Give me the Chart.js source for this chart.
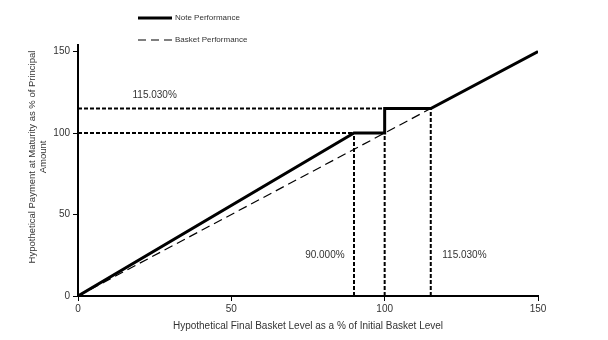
<!DOCTYPE html>
<html>
<head>
<meta charset="utf-8">
<script src="https://cdn.jsdelivr.net/npm/chart.js@4/dist/chart.umd.min.js"></script>
<style>
  html, body { margin: 0; padding: 0; background: #fff; }
  #wrap { width: 608px; height: 340px; position: relative; }
</style>
</head>
<body>
<div id="wrap"><canvas id="c" width="608" height="340"></canvas></div>
<script>
// ---- data ----
const noteX = [0, 90, 100, 100, 115.03, 150];
const noteY = [0, 100, 100, 115.03, 115.03, 150];
const basketX = [0, 150];
const basketY = [0, 150];
const guideH100X = [0, 90];
const guideH100Y = [100, 100];
const guideH115X = [0, 100];
const guideH115Y = [115.03, 115.03];
const guideV90X = [90, 90];
const guideV90Y = [0, 100];
const guideV100X = [100, 100];
const guideV100Y = [0, 100];
const guideV115X = [115.03, 115.03];
const guideV115Y = [0, 115.03];
const xTicks = [0, 50, 100, 150];
const yTicks = [0, 50, 100, 150];
const seriesNames = ["Note Performance", "Basket Performance"];
const annotations = [
  { text: "115.030%", x: 25, y: 123 },
  { text: "90.000%", x: 80.5, y: 25 },
  { text: "115.030%", x: 126, y: 25 }
];
const xTitle = "Hypothetical Final Basket Level as a % of Initial Basket Level";
const yTitleLines = ["Hypothetical Payment at Maturity as % of Principal", "Amount"];

const pts = (xs, ys) => xs.map((x, i) => ({ x: x, y: ys[i] }));
const FONT = "'Liberation Sans', Arial, sans-serif";
const TXT = "#333";

function guide(xs, ys) {
  return { label: "guide", data: pts(xs, ys), showLine: true, borderColor: "#000",
    borderWidth: 2, borderDash: [4, 2], pointRadius: 0, fill: false };
}

const overlay = {
  id: "overlay",
  afterDraw(chart) {
    const ctx = chart.ctx;
    const xs = chart.scales.x, ys = chart.scales.y;
    ctx.save();
    // annotations
    ctx.fillStyle = TXT;
    ctx.font = "10px " + FONT;
    ctx.textAlign = "center";
    ctx.textBaseline = "middle";
    annotations.forEach(a => {
      ctx.fillText(a.text, xs.getPixelForValue(a.x), ys.getPixelForValue(a.y));
    });
    // x title
    ctx.font = "10px " + FONT;
    ctx.fillText(xTitle, (chart.chartArea.left + chart.chartArea.right) / 2, 326);
    // y title
    ctx.save();
    ctx.translate(32, 157);
    ctx.rotate(-Math.PI / 2);
    ctx.font = "9.5px " + FONT;
    ctx.fillText(yTitleLines[0], 0, 0);
    ctx.fillText(yTitleLines[1], 0, 11);
    ctx.restore();
    // legend
    ctx.strokeStyle = "#000";
    ctx.lineWidth = 3;
    ctx.setLineDash([]);
    ctx.beginPath(); ctx.moveTo(138, 18); ctx.lineTo(172, 18); ctx.stroke();
    ctx.lineWidth = 1.2;
    ctx.setLineDash([8, 5]);
    ctx.beginPath(); ctx.moveTo(138, 40); ctx.lineTo(172, 40); ctx.stroke();
    ctx.setLineDash([]);
    ctx.font = "8px " + FONT;
    ctx.textAlign = "left";
    ctx.fillText(seriesNames[0], 175, 18);
    ctx.fillText(seriesNames[1], 175, 40);
    ctx.restore();
  }
};

new Chart(document.getElementById("c"), {
  type: "scatter",
  data: {
    datasets: [
      { label: seriesNames[0], data: pts(noteX, noteY), showLine: true, borderColor: "#000",
        borderWidth: 3, pointRadius: 0, fill: false, order: 0 },
      { label: seriesNames[1], data: pts(basketX, basketY), showLine: true, borderColor: "#000",
        borderWidth: 1.2, borderDash: [9, 5], pointRadius: 0, fill: false, order: 1 },
      guide(guideH100X, guideH100Y),
      guide(guideH115X, guideH115Y),
      guide(guideV90X, guideV90Y),
      guide(guideV100X, guideV100Y),
      guide(guideV115X, guideV115Y)
    ]
  },
  options: {
    responsive: false,
    animation: false,
    layout: { padding: { left: 0, top: 45, right: 70, bottom: 0 } },
    plugins: { legend: { display: false }, tooltip: { enabled: false } },
    scales: {
      x: {
        type: "linear", min: 0, max: 150,
        afterBuildTicks: s => { s.ticks = xTicks.map(v => ({ value: v })); },
        afterFit: s => { s.height = 44; },
        grid: { drawOnChartArea: false, drawTicks: true, tickLength: 5, color: "#000", lineWidth: 1 },
        border: { display: true, color: "#000", width: 2 },
        ticks: { color: TXT, font: { family: FONT, size: 10 }, padding: 2, maxRotation: 0 }
      },
      y: {
        type: "linear", min: 0, max: 154,
        afterBuildTicks: s => { s.ticks = yTicks.map(v => ({ value: v })); },
        afterFit: s => { s.width = 78; },
        grid: { drawOnChartArea: false, drawTicks: true, tickLength: 5, color: "#000", lineWidth: 1 },
        border: { display: true, color: "#000", width: 2 },
        ticks: { color: TXT, font: { family: FONT, size: 10 }, padding: 3 }
      }
    }
  },
  plugins: [overlay]
});
</script>
</body>
</html>
